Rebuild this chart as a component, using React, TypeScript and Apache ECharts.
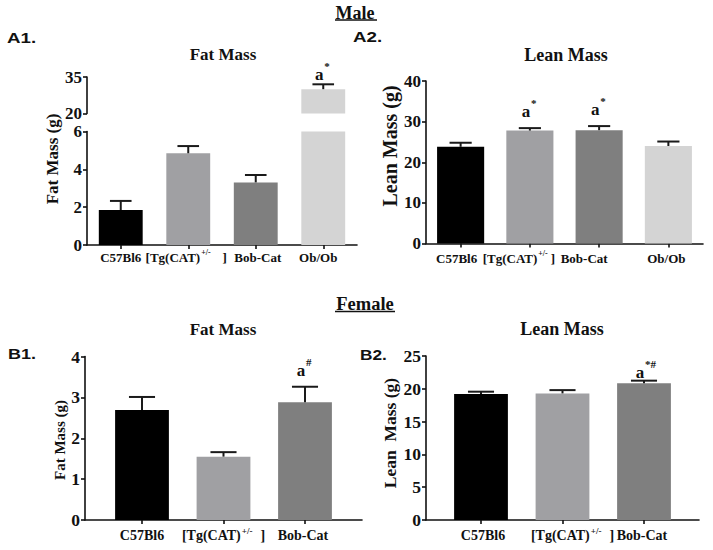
import React, { useEffect, useRef } from "react";
import * as echarts from "echarts";

// ---------- data ----------
const MALE_GROUPS = ["C57Bl6", "[Tg(CAT)+/-]", "Bob-Cat", "Ob/Ob"];
const FEMALE_GROUPS = ["C57Bl6", "[Tg(CAT)+/-]", "Bob-Cat"];
const GROUP_COLORS = ["#000000", "#a0a0a3", "#7f7f7f", "#d4d4d4"];

const MALE_FAT = [1.85, 4.85, 3.31, 30.0];
const MALE_FAT_SEM = [0.48, 0.38, 0.39, 2.0];
const MALE_FAT_SIG = ["", "", "", "a^*"];

const MALE_LEAN = [23.8, 27.8, 27.9, 24.0];
const MALE_LEAN_SEM = [1.0, 0.6, 1.0, 1.1];
const MALE_LEAN_SIG = ["", "a^*", "a^*", ""];

const FEMALE_FAT = [2.69, 1.55, 2.88];
const FEMALE_FAT_SEM = [0.32, 0.11, 0.38];
const FEMALE_FAT_SIG = ["", "", "a^#"];

const FEMALE_LEAN = [19.2, 19.3, 20.84];
const FEMALE_LEAN_SEM = [0.36, 0.5, 0.4];
const FEMALE_LEAN_SIG = ["", "", "a^*#"];

// broken axis of panel A1
const A1_LOW_RANGE = [0, 6];
const A1_HIGH_RANGE = [20, 35];
const A1_HIGH_TICKS = [20, 35];

// ---------- styles ----------
const SERIF = '"Liberation Serif", "Times New Roman", serif';
const SANS = '"Liberation Sans", Arial, sans-serif';
const INK = "#111111";

function yAxisStyle(fs: number) {
  return {
    axisLine: { show: true, lineStyle: { color: INK, width: 1.6 } },
    axisTick: { show: true, inside: false, length: 4, lineStyle: { color: INK, width: 1.6 } },
    axisLabel: { color: INK, fontFamily: SERIF, fontWeight: "bold", fontSize: fs, margin: 5 },
    splitLine: { show: false },
  };
}

function catLabel(fs: number, margin: number, shifts: number[], bracketGap: number) {
  const rich: any = {
    s: {
      fontSize: Math.round(fs * 0.62),
      fontWeight: "bold",
      fontFamily: SERIF,
      color: INK,
      lineHeight: Math.round(fs * 0.62),
      padding: [0, 0, Math.round(fs * 0.75), 1],
      verticalAlign: "top",
    },
  };
  const base = { fontSize: fs, fontWeight: "bold", fontFamily: SERIF, color: INK, lineHeight: fs + 2, verticalAlign: "bottom" };
  shifts.forEach((sh, i) => {
    const left = sh > 0 ? 2 * sh : 0;
    const right = sh < 0 ? -2 * sh : 0;
    rich["p" + i] = { ...base, padding: [0, right, 0, left] };
    rich["a" + i] = { ...base, padding: [0, 0, 0, left] };
    rich["b" + i] = { ...base, padding: [0, right, 0, bracketGap] };
  });
  return {
    interval: 0,
    hideOverlap: false,
    margin,
    verticalAlign: "bottom",
    rich,
    formatter: (value: string, idx: number) => {
      if (value.includes("+/-")) {
        const [pre, post] = value.split("+/-");
        return `{a${idx}|${pre}}{s|+/-}{b${idx}|${post}}`;
      }
      return `{p${idx}|${value}}`;
    },
  };
}

function catAxis(gridIndex: number, data: string[], label: any, showLine = true) {
  return {
    type: "category",
    gridIndex,
    data,
    boundaryGap: true,
    axisLine: { show: showLine, onZero: false, lineStyle: { color: INK, width: 1.6 } },
    axisTick: { show: true, alignWithLabel: true, length: 4, lineStyle: { color: INK, width: 1.6 } },
    axisLabel: label,
    splitLine: { show: false },
  };
}

function frameXAxis(gridIndex: number) {
  return {
    type: "value",
    gridIndex,
    min: 0,
    max: 1,
    axisLine: { show: true, onZero: false, lineStyle: { color: INK, width: 1.6 } },
    axisTick: { show: false },
    axisLabel: { show: false },
    splitLine: { show: false },
  };
}

function barSeries(axisIdx: number, values: (number | string)[], width: string) {
  return {
    type: "bar",
    xAxisIndex: axisIdx,
    yAxisIndex: axisIdx,
    barWidth: width,
    clip: true,
    data: values.map((v, i) => ({ value: v, itemStyle: { color: GROUP_COLORS[i] } })),
    z: 2,
  };
}

function errSeries(axisIdx: number, values: number[], sems: number[], sig: string[], keep: (v: number) => boolean, aOff: number) {
  const data = values.map((v, i) => [i, v, sems[i]]).filter((d) => keep(d[1]));
  return {
    type: "custom",
    xAxisIndex: axisIdx,
    yAxisIndex: axisIdx,
    encode: { x: 0, y: 1 },
    z: 5,
    data,
    renderItem: (params: any, api: any) => {
      const i = api.value(0);
      const m = api.value(1);
      const e = api.value(2);
      const b = api.coord([i, m]);
      const t = api.coord([i, m + e]);
      const hw = (api.size([1, 0])[0] * 0.32) / 2;
      const children: any[] = [
        { type: "line", shape: { x1: b[0], y1: b[1], x2: t[0], y2: t[1] }, style: { stroke: "#1a1a1a", lineWidth: 2 } },
        { type: "line", shape: { x1: t[0] - hw, y1: t[1], x2: t[0] + hw, y2: t[1] }, style: { stroke: "#1a1a1a", lineWidth: 2 } },
      ];
      const s = sig[i];
      if (s) {
        const [main, sup] = s.split("^");
        children.push({
          type: "text",
          x: t[0] - 4,
          y: t[1] - aOff,
          style: { text: main, fontFamily: SERIF, fontWeight: "bold", fontSize: 17, fill: INK, align: "center", verticalAlign: "middle" },
        });
        children.push({
          type: "text",
          x: t[0] + 1,
          y: t[1] - aOff - 9,
          style: { text: sup, fontFamily: SERIF, fontWeight: "bold", fontSize: 11, fill: INK, align: "left", verticalAlign: "middle" },
        });
      }
      return { type: "group", children };
    },
  };
}

function txt(text: string, x: number, y: number, fs: number, opts: any = {}) {
  return {
    type: "text",
    x,
    y,
    rotation: opts.rotation || 0,
    scaleX: opts.scaleX || 1,
    style: {
      text,
      fontFamily: opts.family || SERIF,
      fontWeight: "bold",
      fontSize: fs,
      fill: INK,
      align: opts.align || "center",
      verticalAlign: "middle",
    },
  };
}

function underline(x1: number, x2: number, y: number) {
  return { type: "line", shape: { x1, y1: y, x2, y2: y }, style: { stroke: INK, lineWidth: 1.3 } };
}

export default function App() {
  const ref = useRef<HTMLDivElement>(null);
  useEffect(() => {
    if (!ref.current) return;
    const chart = echarts.init(ref.current, undefined, { renderer: "svg" });
    const brk = A1_LOW_RANGE[1];
    const option: any = {
      animation: false,
      backgroundColor: "#ffffff",
      grid: [
        { left: 87, top: 77, width: 270, height: 36.5 }, // 0 A1 upper
        { left: 87, top: 131.5, width: 270, height: 113.5 }, // 1 A1 lower
        { left: 426, top: 81, width: 277, height: 162.5 }, // 2 A2
        { left: 85, top: 356.5, width: 277, height: 163.5 }, // 3 B1 frame
        { left: 101.25, top: 356.5, width: 244.5, height: 163.5 }, // 4 B1 data
        { left: 426, top: 356, width: 273, height: 164 }, // 5 B2 frame
        { left: 440.25, top: 356, width: 244.5, height: 164 }, // 6 B2 data
      ],
      xAxis: [
        { ...catAxis(0, MALE_GROUPS, { show: false }), show: false },
        catAxis(1, MALE_GROUPS, catLabel(13, 18.5, [0, -2, 2, -5], 12)),
        catAxis(2, MALE_GROUPS, catLabel(13, 21, [-4, -11, -15, -2], 3)),
        frameXAxis(3),
        catAxis(4, FEMALE_GROUPS, catLabel(14, 22, [0, 0, -2], 8), false),
        frameXAxis(5),
        catAxis(6, FEMALE_GROUPS, catLabel(14, 22, [2, 10, -2], 8), false),
      ],
      yAxis: [
        {
          type: "value",
          gridIndex: 0,
          min: A1_HIGH_RANGE[0],
          max: A1_HIGH_RANGE[1],
          ...yAxisStyle(17),
          axisTick: { show: true, length: 4, customValues: A1_HIGH_TICKS, lineStyle: { color: INK, width: 1.6 } },
          axisLabel: { color: INK, fontFamily: SERIF, fontWeight: "bold", fontSize: 17, margin: 5, customValues: A1_HIGH_TICKS },
        },
        { type: "value", gridIndex: 1, min: A1_LOW_RANGE[0], max: A1_LOW_RANGE[1], interval: 2, ...yAxisStyle(17) },
        { type: "value", gridIndex: 2, min: 0, max: 40, interval: 10, ...yAxisStyle(17) },
        { type: "value", gridIndex: 3, min: 0, max: 4, interval: 1, ...yAxisStyle(17.5) },
        { type: "value", gridIndex: 4, min: 0, max: 4, interval: 1, show: false },
        { type: "value", gridIndex: 5, min: 0, max: 25, interval: 5, ...yAxisStyle(17.5) },
        { type: "value", gridIndex: 6, min: 0, max: 25, interval: 5, show: false },
      ],
      series: [
        barSeries(0, MALE_FAT.map((v) => (v > brk ? v : "-")), "65%"),
        barSeries(1, MALE_FAT, "65%"),
        barSeries(2, MALE_LEAN, "68%"),
        barSeries(4, FEMALE_FAT, "66%"),
        barSeries(6, FEMALE_LEAN, "66%"),
        errSeries(0, MALE_FAT, MALE_FAT_SEM, MALE_FAT_SIG, (v) => v > brk, 9.5),
        errSeries(1, MALE_FAT, MALE_FAT_SEM, MALE_FAT_SIG, (v) => v <= brk, 16),
        errSeries(2, MALE_LEAN, MALE_LEAN_SEM, MALE_LEAN_SIG, () => true, 16.5),
        errSeries(4, FEMALE_FAT, FEMALE_FAT_SEM, FEMALE_FAT_SIG, () => true, 16),
        errSeries(6, FEMALE_LEAN, FEMALE_LEAN_SEM, FEMALE_LEAN_SIG, () => true, 8),
      ],
      graphic: [
        txt("Male", 355, 12.5, 18),
        underline(335, 377, 20),
        txt("Female", 365, 304, 18.5),
        underline(335, 395, 311.5),
        txt("A1.", 7, 38, 15, { family: SANS, align: "left", scaleX: 1.25 }),
        txt("A2.", 353, 37, 15, { family: SANS, align: "left", scaleX: 1.25 }),
        txt("B1.", 8, 354, 15, { family: SANS, align: "left", scaleX: 1.2 }),
        txt("B2.", 360, 354, 15, { family: SANS, align: "left", scaleX: 1.15 }),
        txt("Fat Mass", 223, 54.5, 17),
        txt("Lean Mass", 566, 55, 18),
        txt("Fat Mass", 223, 329, 17),
        txt("Lean Mass", 562, 329, 18),
        txt("Fat Mass (g)", 52.5, 159, 17, { rotation: Math.PI / 2 }),
        txt("Lean Mass (g)", 390, 146, 20, { rotation: Math.PI / 2 }),
        txt("Fat Mass (g)", 60, 440, 15, { rotation: Math.PI / 2 }),
        txt("Lean  Mass (g)", 390, 433, 17.5, { rotation: Math.PI / 2 }),
      ],
    };
    chart.setOption(option);
    return () => chart.dispose();
  }, []);
  return (
    <div
      ref={ref}
      style={{ position: "absolute", left: 0, top: 0, width: 713, height: 550, background: "#fff" }}
    />
  );
}
